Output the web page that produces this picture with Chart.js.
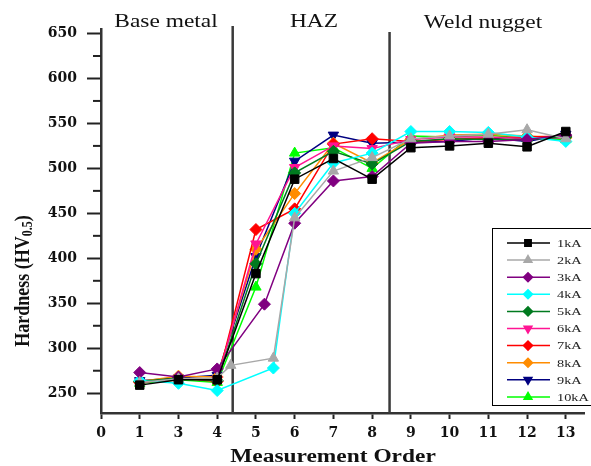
<!DOCTYPE html>
<html><head><meta charset="utf-8">
<script src="https://cdn.jsdelivr.net/npm/chart.js@4/dist/chart.umd.min.js"></script>
<style>html,body{margin:0;padding:0;background:#fff;}#wrap{width:591px;height:466px;}</style>
</head><body><div id="wrap"><canvas id="c" width="591" height="466"></canvas></div>
<script>
// ---- data ----
const seriesNames = ['1kA','2kA','3kA','4kA','5kA','6kA','7kA','8kA','9kA','10kA'];
const xTickLabels = ['0','1','3','4','5','6','7','8','9','10','11','12','13'];
const yMajorTicks = [250,300,350,400,450,500,550,600,650];
const yMinorTicks = [275,325,375,425,475,525,575,625];
const regionLabels = ['Base metal','HAZ','Weld nugget'];
const regionBoundaries = [3.4, 7.45];

const xCommon = [1,2,3,4,5,6,7,8,9,10,11,12];
const x2kA = [1,2,3,3.35,4.45,5,6,7,8,9,10,11,12];
const x3kA = [1,2,3,4.22,5,6,7,8,9,10,11,12];
const x4kA = [1,2,3,4.45,5,6,7,8,9,10,11,12];

const hv1kA  = [259,265,265,383,488,511,488,523,525,528,524,541];
const hv2kA  = [262,266,267,281,289,445,497,512,533,536,538,543,533];
const hv3kA  = [273,268,277,349,439,486,491,528,530,530,532,537];
const hv4kA  = [264,261,253,278,450,506,517,541,541,540,535,530];
const hv5kA  = [263,267,264,394,495,519,505,530,533,532,532,535];
const hv6kA  = [262,266,265,416,501,525,522,532,535,535,533,534];
const hv7kA  = [262,267,263,432,455,527,533,530,532,534,535,536];
const hv8kA  = [263,269,268,410,472,528,506,532,537,538,536,534];
const hv9kA  = [264,267,270,402,508,537,528,529,530,534,530,538];
const hv10kA = [261,265,262,368,517,523,500,536,535,537,533,532];

const seriesX = [xCommon, x2kA, x3kA, x4kA, xCommon, xCommon, xCommon, xCommon, xCommon, xCommon];
const seriesY = [hv1kA, hv2kA, hv3kA, hv4kA, hv5kA, hv6kA, hv7kA, hv8kA, hv9kA, hv10kA];

// ---- styles ----
const colors = ['#000000','#a8a8a8','#800080','#00ffff','#007a1f','#ff1493','#ff0000','#ff8c00','#000080','#00ff00'];
const markers = ['rect','triangle','rectRot','rectRot','rectRot','triangle','rectRot','rectRot','triangle','triangle'];
const rotations = [0,0,0,0,0,180,0,0,180,0];

const datasets = seriesNames.map((name, i) => ({
  label: name,
  data: seriesY[i].map((v, j) => ({x: seriesX[i][j], y: v})),
  borderColor: colors[i],
  backgroundColor: colors[i],
  pointBackgroundColor: colors[i],
  pointBorderColor: colors[i],
  pointStyle: markers[i],
  pointRotation: rotations[i],
  pointRadius: markers[i] === 'rect' ? 6 : 6,
  pointBorderWidth: 1,
  borderWidth: 1.5,
  tension: 0,
  fill: false
}));

const SX = 1.3; // horizontal stretch of the reference
function stretchedText(ctx, txt, x, y, font, align, sx) {
  ctx.save();
  ctx.font = font;
  ctx.translate(x, y);
  ctx.scale(sx, 1);
  ctx.textAlign = align;
  ctx.fillText(txt, 0, 0);
  ctx.restore();
}

function drawMarker(ctx, style, rot, r, x, y) {
  if (Chart.helpers && Chart.helpers.drawPoint) {
    Chart.helpers.drawPoint(ctx, {pointStyle: style, rotation: rot, radius: r, borderWidth: 1}, x, y);
  }
}

const decor = {
  id: 'decor',
  beforeDatasetsDraw(chart) {
    const {ctx, chartArea: a, scales: {x, y}} = chart;
    ctx.save();
    ctx.strokeStyle = '#3a3a3a';
    ctx.lineWidth = 2.5;
    regionBoundaries.forEach((b, i) => {
      const px = x.getPixelForValue(b);
      ctx.beginPath();
      ctx.moveTo(px, i === 0 ? a.top - 3 : a.top + 3);
      ctx.lineTo(px, a.bottom);
      ctx.stroke();
    });
    // minor y ticks
    ctx.strokeStyle = '#222';
    ctx.lineWidth = 2;
    yMinorTicks.forEach(v => {
      const py = y.getPixelForValue(v);
      ctx.beginPath();
      ctx.moveTo(a.left - 8, py);
      ctx.lineTo(a.left, py);
      ctx.stroke();
    });
    ctx.restore();
  },
  afterDraw(chart) {
    const {ctx, chartArea: a, scales: {x, y}} = chart;
    ctx.save();
    ctx.fillStyle = '#111';
    ctx.textBaseline = 'alphabetic';
    // region labels
    stretchedText(ctx, regionLabels[0], 166, 27, '18px "Liberation Serif"', 'center', SX);
    stretchedText(ctx, regionLabels[1], 314, 27, '18px "Liberation Serif"', 'center', SX);
    stretchedText(ctx, regionLabels[2], 483, 28, '18px "Liberation Serif"', 'center', SX);
    // x title
    stretchedText(ctx, 'Measurement Order', 333, 462, 'bold 18px "Liberation Serif"', 'center', SX);
    // y title with subscript
    ctx.save();
    ctx.translate(29, 281);
    ctx.scale(1.15, 1);
    ctx.rotate(-Math.PI / 2);
    const f1 = 'bold 18px "Liberation Serif"', f2 = 'bold 12px "Liberation Serif"';
    const p1 = 'Hardness (HV', p2 = '0.5', p3 = ')';
    ctx.font = f1; const w1 = ctx.measureText(p1).width, w3 = ctx.measureText(p3).width;
    ctx.font = f2; const w2 = ctx.measureText(p2).width;
    let sx = -(w1 + w2 + w3) / 2;
    ctx.textAlign = 'left';
    ctx.font = f1; ctx.fillText(p1, sx, 0);
    ctx.font = f2; ctx.fillText(p2, sx + w1, 3);
    ctx.font = f1; ctx.fillText(p3, sx + w1 + w2, 0);
    ctx.restore();
    // legend
    ctx.strokeStyle = '#000';
    ctx.lineWidth = 1;
    ctx.fillStyle = '#fff';
    ctx.fillRect(492.5, 228.5, 110, 177);
    ctx.strokeRect(492.5, 228.5, 110, 177);
    seriesNames.forEach((name, i) => {
      const ly = 243 + i * 17.1;
      ctx.strokeStyle = colors[i];
      ctx.lineWidth = 1.5;
      ctx.beginPath(); ctx.moveTo(507, ly); ctx.lineTo(550, ly); ctx.stroke();
      ctx.fillStyle = colors[i];
      drawMarker(ctx, markers[i], rotations[i], 4.5, 528, ly);
      ctx.fillStyle = '#222';
      ctx.textBaseline = 'middle';
      stretchedText(ctx, name, 557, ly + 1, '11px "Liberation Serif"', 'left', SX);
    });
    ctx.restore();
  }
};

new Chart(document.getElementById('c'), {
  type: 'line',
  data: {datasets},
  options: {
    responsive: false,
    animation: false,
    devicePixelRatio: 1,
    layout: {padding: {top: 29, left: 0, right: 0, bottom: 0}},
    plugins: {legend: {display: false}, tooltip: {enabled: false}, title: {display: false}},
    scales: {
      x: {
        type: 'linear', min: 0, max: 12.47,
        afterBuildTicks: s => { s.ticks = xTickLabels.map((_, i) => ({value: i})); },
        afterFit: s => { s.height = 53; },
        ticks: {
          callback: v => xTickLabels[v] !== undefined ? xTickLabels[v] : '',
          font: {family: 'DejaVu Serif', weight: 'bold', size: 14},
          color: '#111', padding: 6, maxRotation: 0, autoSkip: false
        },
        grid: {display: true, drawOnChartArea: false, drawTicks: true, tickLength: 6, tickWidth: 2, tickColor: '#222'},
        border: {display: true, color: '#333', width: 2.5}
      },
      y: {
        type: 'linear', min: 228, max: 655,
        afterBuildTicks: s => { s.ticks = yMajorTicks.map(v => ({value: v})); },
        afterFit: s => { s.width = 101; },
        ticks: {
          font: {family: 'DejaVu Serif', weight: 'bold', size: 14},
          color: '#111', padding: 10
        },
        grid: {display: true, drawOnChartArea: false, drawTicks: true, tickLength: 14, tickWidth: 2, tickColor: '#222'},
        border: {display: true, color: '#333', width: 2.5}
      }
    }
  },
  plugins: [decor]
});
</script></body></html>
